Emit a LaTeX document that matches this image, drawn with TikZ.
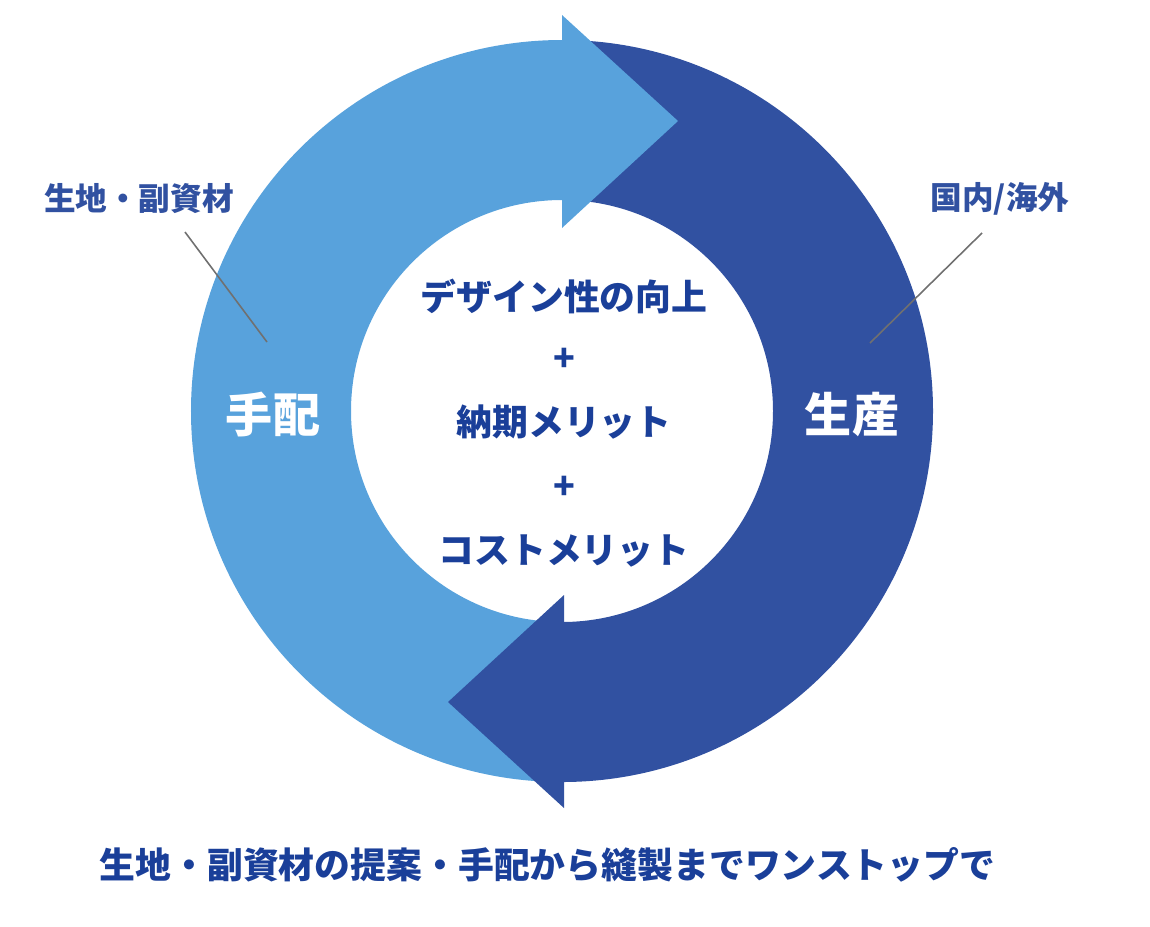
\documentclass[tikz,border=0pt]{standalone}
\usepackage{fontspec}
\setmainfont{Noto Sans CJK JP}
\definecolor{procblue}{RGB}{88, 162, 220}
\definecolor{prodblue}{RGB}{49, 81, 161}
\definecolor{meritblue}{RGB}{26, 63, 153}
\definecolor{leadgray}{RGB}{112, 112, 112}
\usepackage{tikz}
\usetikzlibrary{calc}

\begin{document}
\begin{tikzpicture}[
  merit/.style={font=\fontsize{10.2}{12}\selectfont\bfseries, text=meritblue, inner sep=0pt},
  side/.style={font=\fontsize{9}{11}\selectfont\bfseries, text=prodblue, inner sep=0pt},
  phase/.style={font=\fontsize{13.4}{16}\selectfont\bfseries, text=white, inner sep=0pt},
  lead/.style={draw=leadgray, line width=0.45pt}]
  \useasboundingbox (-5.62,-5.15) rectangle (5.88,4.11);

  % Production half (right)
  \fill[prodblue] (0,3.71) arc[start angle=90, end angle=-90, radius=3.71] -- (0,-2.11) arc[start angle=-90, end angle=90, radius=2.11] -- cycle;

  % Procurement half (left) with its head
  \fill[procblue] (0,-3.71) arc[start angle=270, end angle=90, radius=3.71] -- (0,3.96) -- (1.16,2.90) -- (0,1.83) -- (0,2.11) arc[start angle=90, end angle=270, radius=2.11] -- cycle;

  % Production head
  \fill[prodblue] (0.02,-1.84) -- (-1.14,-2.91) -- (0.02,-3.97) -- cycle;

  % Phases
  \node[phase] (procure) at (-2.89,-0.04) {手配};
  \node[phase] (produce) at (2.90,-0.03) {生産};

  % Side labels
  \node[side] (materials) at (-4.23,2.12) {生地・副資材};
  \node[side] (region) at (4.38,2.12) {国内/海外};
  \coordinate (materialstop) at (-3.77,1.79);
  \coordinate (materialsend) at (-2.95,0.69);
  \coordinate (regiontop) at (4.20,1.78);
  \coordinate (regionend) at (3.08,0.68);
  \draw[lead] (materialstop) -- (materialsend);
  \draw[lead] (regiontop) -- (regionend);

  % Merits
  \node[merit] (design) at (0.02,1.15) {デザイン性の向上};
  \node[merit] (plusone) at (0.02,0.51) {+};
  \node[merit] (delivery) at (0.02,-0.11) {納期メリット};
  \node[merit] (plustwo) at (0.02,-0.77) {+};
  \node[merit] (cost) at (0.02,-1.40) {コストメリット};

  % Tagline
  \node[merit] (tagline) at (-0.145,-4.54) {生地・副資材の提案・手配から縫製までワンストップで};
\end{tikzpicture}
\end{document}
